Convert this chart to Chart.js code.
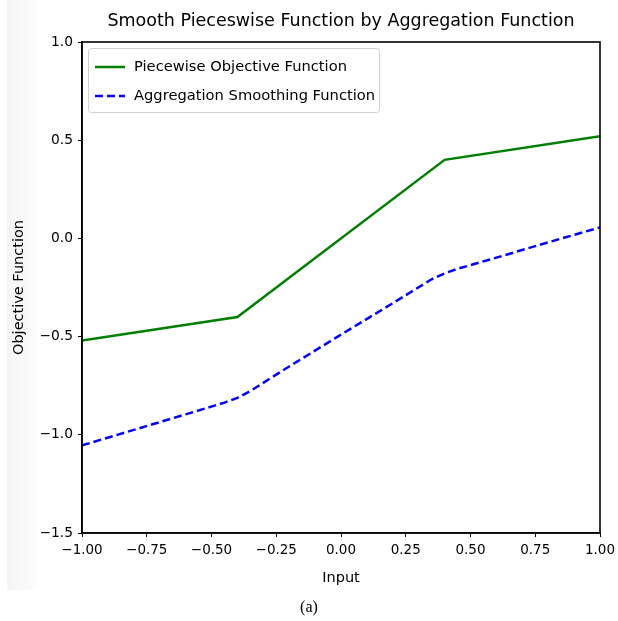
<!DOCTYPE html>
<html>
<head>
<meta charset="utf-8">
<script src="https://cdn.jsdelivr.net/npm/chart.js@4.4.1/dist/chart.umd.min.js"></script>
<style>
  html, body { margin: 0; padding: 0; background: #ffffff; }
  #wrap { width: 618px; height: 621px; position: relative; }
</style>
</head>
<body>
<div id="wrap"><canvas id="c" width="618" height="621"></canvas></div>
<script>
const chartTitle = "Smooth Pieceswise Function by Aggregation Function";
const xLabel = "Input";
const yLabel = "Objective Function";
const caption = "(a)";
const seriesNames = ["Piecewise Objective Function", "Aggregation Smoothing Function"];

const piecewiseX = [-1.0, -0.4, 0.4, 1.0];
const piecewiseY = [-0.52, -0.40, 0.40, 0.52];

const smoothX = [-1.0, -0.8, -0.6, -0.45, -0.4, -0.35, -0.2, 0.0, 0.2, 0.35, 0.4, 0.45, 0.6, 0.8, 1.0];
const smoothY = [-1.054, -0.975, -0.896, -0.836, -0.812, -0.777, -0.652, -0.49, -0.33, -0.208, -0.178, -0.155, -0.098, -0.02, 0.056];

const xTicks = [-1.0, -0.75, -0.5, -0.25, 0.0, 0.25, 0.5, 0.75, 1.0];
const yTicks = [-1.5, -1.0, -0.5, 0.0, 0.5, 1.0];

const FONT = "'DejaVu Sans', sans-serif";
const fmt = (v, d) => v.toFixed(d).replace('-', '\u2212');

const framePlugin = {
  id: 'frame',
  beforeDraw(chart) {
    const ctx = chart.ctx;
    ctx.save();
    const g = ctx.createLinearGradient(7, 0, 36, 0);
    g.addColorStop(0, '#f5f5f5');
    g.addColorStop(1, '#fcfcfc');
    ctx.fillStyle = g;
    ctx.fillRect(7, 0, 29, 590);
    ctx.restore();
  },
  afterDraw(chart) {
    const {ctx, chartArea: a} = chart;
    ctx.save();
    ctx.strokeStyle = '#000';
    ctx.lineWidth = 1.6;
    ctx.strokeRect(a.left, a.top, a.right - a.left, a.bottom - a.top);
    // title
    ctx.fillStyle = '#000';
    ctx.font = "17.5px " + FONT;
    ctx.textAlign = 'center';
    ctx.textBaseline = 'middle';
    ctx.fillText(chartTitle, (a.left + a.right) / 2, 21);
    // caption
    ctx.font = "16px 'Liberation Serif', serif";
    ctx.fillText(caption, chart.width / 2, 608);
    // legend
    const lx = 88, ly = 48, lw = 291, lh = 64;
    ctx.beginPath();
    if (ctx.roundRect) ctx.roundRect(lx + 0.5, ly + 0.5, lw, lh, 3); else ctx.rect(lx + 0.5, ly + 0.5, lw, lh);
    ctx.fillStyle = 'rgba(255,255,255,0.85)';
    ctx.fill();
    ctx.strokeStyle = '#d0d0d0';
    ctx.lineWidth = 1;
    ctx.stroke();
    ctx.font = "14.7px " + FONT;
    ctx.textAlign = 'left';
    chart.data.datasets.forEach((ds, i) => {
      const y = ly + 19 + i * 29;
      ctx.beginPath();
      ctx.setLineDash(ds.borderDash || []);
      ctx.strokeStyle = ds.borderColor;
      ctx.lineWidth = ds.borderWidth;
      ctx.moveTo(95, y);
      ctx.lineTo(125, y);
      ctx.stroke();
      ctx.setLineDash([]);
      ctx.fillStyle = '#000';
      ctx.fillText(ds.label, 134, y);
    });
    ctx.restore();
  }
};

new Chart(document.getElementById('c'), {
  type: 'line',
  data: {
    datasets: [
      {
        label: seriesNames[0],
        data: piecewiseX.map((x, i) => ({x, y: piecewiseY[i]})),
        borderColor: '#008000',
        borderWidth: 2.5,
        pointRadius: 0,
        tension: 0,
        fill: false
      },
      {
        label: seriesNames[1],
        data: smoothX.map((x, i) => ({x, y: smoothY[i]})),
        borderColor: '#0000ff',
        borderWidth: 2.5,
        borderDash: [8, 4],
        pointRadius: 0,
        tension: 0,
        fill: false
      }
    ]
  },
  options: {
    responsive: false,
    animation: false,
    devicePixelRatio: 1,
    layout: { padding: { top: 42, right: 18, left: 0, bottom: 0 } },
    plugins: { legend: { display: false }, title: { display: false }, tooltip: { enabled: false } },
    scales: {
      x: {
        type: 'linear',
        min: -1, max: 1,
        afterBuildTicks: s => { s.ticks = xTicks.map(v => ({value: v})); },
        afterFit: s => { s.height = 88; s.paddingLeft = 0; s.paddingRight = 0; },
        ticks: {
          callback: v => fmt(v, 2),
          font: { family: FONT, size: 13.5 },
          color: '#000',
          padding: 5,
          maxRotation: 0,
          autoSkip: false
        },
        grid: { drawOnChartArea: false, drawTicks: true, tickLength: 4, color: '#000', lineWidth: 1 },
        border: { display: true, color: '#000', width: 1.6 },
        title: { display: true, text: xLabel, font: { family: FONT, size: 14.5 }, color: '#000', padding: { top: 0, bottom: 34 } }
      },
      y: {
        type: 'linear',
        min: -1.5, max: 1,
        afterBuildTicks: s => { s.ticks = yTicks.map(v => ({value: v})); },
        afterFit: s => { s.width = 82; s.paddingTop = 0; s.paddingBottom = 0; },
        ticks: {
          callback: v => fmt(v, 1),
          font: { family: FONT, size: 13.8 },
          color: '#000',
          padding: 5
        },
        grid: { drawOnChartArea: false, drawTicks: true, tickLength: 4, color: '#000', lineWidth: 1 },
        border: { display: true, color: '#000', width: 1.6 },
        title: { display: true, text: yLabel, font: { family: FONT, size: 14.5 }, color: '#000', padding: { top: 11, bottom: 0 } }
      }
    }
  },
  plugins: [framePlugin]
});
</script>
</body>
</html>
